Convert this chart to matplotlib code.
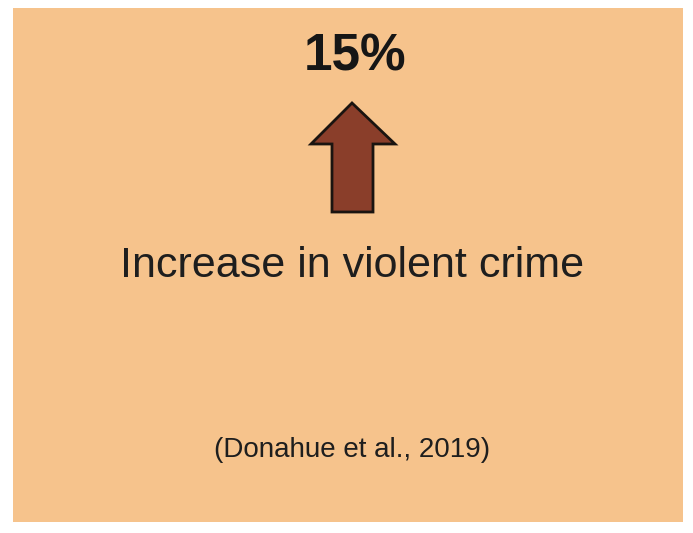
import matplotlib.pyplot as plt
from matplotlib.patches import Rectangle, Polygon

# 内容
value_label = '15%'
caption = 'Increase in violent crime'
source = '(Donahue et al., 2019)'

plt.rcParams['font.family'] = ['Liberation Sans', 'DejaVu Sans']

fig = plt.figure(figsize=(6.93, 5.33), dpi=100)
fig.patch.set_facecolor('white')
ax = fig.add_axes([0, 0, 1, 1])
ax.set_xlim(0, 693)
ax.set_ylim(533, 0)
ax.axis('off')

# 背景
ax.add_patch(Rectangle((13, 8), 670, 514, facecolor='#f6c38c', edgecolor='none'))

# 向上箭头
arrow = [(352, 103), (395, 144), (373, 144), (373, 212), (332, 212), (332, 144), (311, 144)]
ax.add_patch(Polygon(arrow, closed=True, facecolor='#8a3e2a', edgecolor='#1a1410', linewidth=2))

ax.text(355, 57, value_label, ha='center', va='center', fontsize=37, fontweight='bold', color='#161616')
ax.text(352, 266, caption, ha='center', va='center', fontsize=31, color='#1e1e1e')
ax.text(352, 450, source, ha='center', va='center', fontsize=20, color='#1e1e1e')

plt.savefig('out.png', dpi=100)
